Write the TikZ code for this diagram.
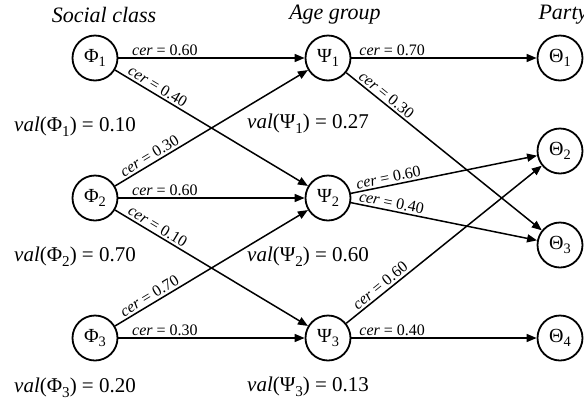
\documentclass[tikz,border=0pt]{standalone}
\usepackage{fontspec}
\setmainfont{Liberation Serif}
\usepackage{graphicx}
\usetikzlibrary{arrows.meta, positioning}

\newcommand{\lowidx}[1]{\raisebox{-0.5ex}{\scalebox{0.72}{#1}}}

\begin{document}
\begin{tikzpicture}[x=1pt, y=-1pt, >={Triangle[length=10pt,width=8pt]},
    varnode/.style={draw, circle, line width=1.8pt, minimum size=45pt, inner sep=0pt,
      font=\fontsize{20}{24}\selectfont},
    link/.style={->, line width=1.5pt},
    cerlabel/.style={sloped, above, pos=0.25, inner sep=2pt,
      font=\fontsize{16}{18}\selectfont},
    vallabel/.style={anchor=west, inner sep=0pt, font=\fontsize{21}{25}\selectfont},
    header/.style={font=\fontsize{22}{26}\selectfont\itshape}]
    \useasboundingbox (0,0) rectangle (584,408);

    % column titles
    \node[header] (hsocial) at (104,15) {Social class};
    \node[header] (hage) at (335,15) {Age group};
    \node[header, anchor=west] (hparty) at (535,15) {Party};

    % social class
    \node[varnode] (phi1) at (95,58) {Φ\lowidx{1}};
    \node[varnode] (phi2) at (95,198) {Φ\lowidx{2}};
    \node[varnode] (phi3) at (95,338) {Φ\lowidx{3}};

    % age group
    \node[varnode] (psi1) at (328,58) {Ψ\lowidx{1}};
    \node[varnode] (psi2) at (328,198) {Ψ\lowidx{2}};
    \node[varnode] (psi3) at (328,338) {Ψ\lowidx{3}};

    % party
    \node[varnode] (theta1) at (560,58) {Θ\lowidx{1}};
    \node[varnode] (theta2) at (560,151) {Θ\lowidx{2}};
    \node[varnode] (theta3) at (560,245) {Θ\lowidx{3}};
    \node[varnode] (theta4) at (560,338) {Θ\lowidx{4}};

    % values
    \node[vallabel] (valphi1) at (14,127) {\textit{val}(Φ\lowidx{1}) = 0.10};
    \node[vallabel] (valphi2) at (14,257) {\textit{val}(Φ\lowidx{2}) = 0.70};
    \node[vallabel] (valphi3) at (14,388) {\textit{val}(Φ\lowidx{3}) = 0.20};
    \node[vallabel] (valpsi1) at (247,124) {\textit{val}(Ψ\lowidx{1}) = 0.27};
    \node[vallabel] (valpsi2) at (247,257) {\textit{val}(Ψ\lowidx{2}) = 0.60};
    \node[vallabel] (valpsi3) at (247,387) {\textit{val}(Ψ\lowidx{3}) = 0.13};

    % social class -> age group
    \draw[link] (phi1) -- (psi1) node[cerlabel] {\textit{cer} = 0.60};
    \draw[link] (phi1) -- (psi2) node[cerlabel, pos=0.2] {\textit{cer} = 0.40};
    \draw[link] (phi2) -- (psi1) node[cerlabel, pos=0.2] {\textit{cer} = 0.30};
    \draw[link] (phi2) -- (psi2) node[cerlabel] {\textit{cer} = 0.60};
    \draw[link] (phi2) -- (psi3) node[cerlabel, pos=0.2] {\textit{cer} = 0.10};
    \draw[link] (phi3) -- (psi2) node[cerlabel, pos=0.2] {\textit{cer} = 0.70};
    \draw[link] (phi3) -- (psi3) node[cerlabel] {\textit{cer} = 0.30};

    % age group -> party
    \draw[link] (psi1) -- (theta1) node[cerlabel, pos=0.22] {\textit{cer} = 0.70};
    \draw[link] (psi1) -- (theta3) node[cerlabel, pos=0.18] {\textit{cer} = 0.30};
    \draw[link] (psi2) -- (theta2) node[cerlabel, pos=0.21] {\textit{cer} = 0.60};
    \draw[link] (psi2) -- (theta3) node[cerlabel, pos=0.21] {\textit{cer} = 0.40};
    \draw[link] (psi3) -- (theta2) node[cerlabel, pos=0.2] {\textit{cer} = 0.60};
    \draw[link] (psi3) -- (theta4) node[cerlabel, pos=0.22] {\textit{cer} = 0.40};
\end{tikzpicture}
\end{document}
